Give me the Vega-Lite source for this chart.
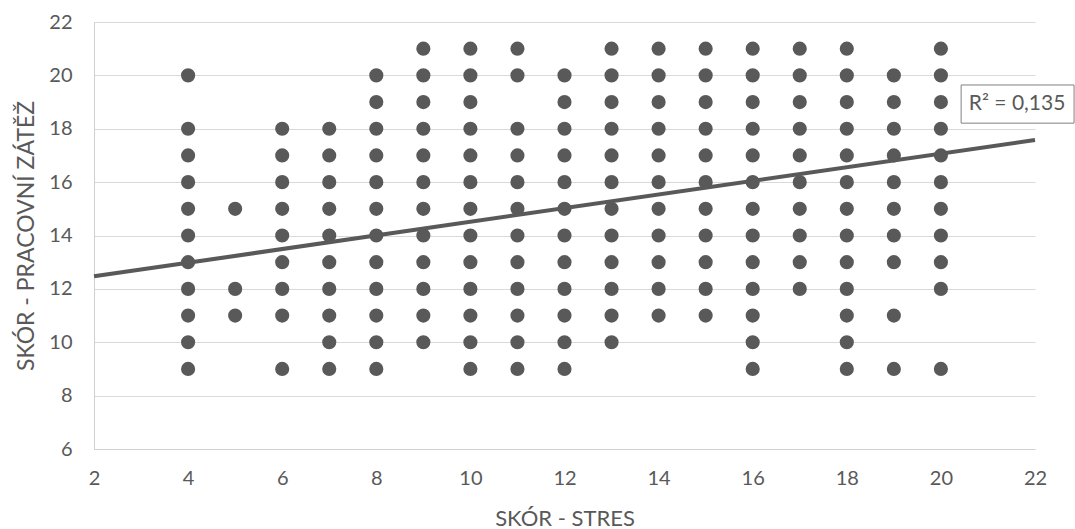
{
  "$schema": "https://vega.github.io/schema/vega-lite/v6.json",
  "width": 941,
  "height": 427,
  "autosize": {"type": "none"},
  "padding": {"left": 94, "top": 22, "right": 40, "bottom": 80},
  "background": "white",
  "config": {
    "view": {"stroke": null},
    "font": "Lato",
    "axis": {"labelFont": "Lato", "titleFont": "Lato"}
  },
  "datasets": {
    "points": [
      {"x": 4, "y": 9}, {"x": 4, "y": 10}, {"x": 4, "y": 11}, {"x": 4, "y": 12}, {"x": 4, "y": 13}, {"x": 4, "y": 14}, {"x": 4, "y": 15}, {"x": 4, "y": 16}, {"x": 4, "y": 17}, {"x": 4, "y": 18}, {"x": 4, "y": 20},
      {"x": 5, "y": 11}, {"x": 5, "y": 12}, {"x": 5, "y": 15},
      {"x": 6, "y": 9}, {"x": 6, "y": 11}, {"x": 6, "y": 12}, {"x": 6, "y": 13}, {"x": 6, "y": 14}, {"x": 6, "y": 15}, {"x": 6, "y": 16}, {"x": 6, "y": 17}, {"x": 6, "y": 18},
      {"x": 7, "y": 9}, {"x": 7, "y": 10}, {"x": 7, "y": 11}, {"x": 7, "y": 12}, {"x": 7, "y": 13}, {"x": 7, "y": 14}, {"x": 7, "y": 15}, {"x": 7, "y": 16}, {"x": 7, "y": 17}, {"x": 7, "y": 18},
      {"x": 8, "y": 9}, {"x": 8, "y": 10}, {"x": 8, "y": 11}, {"x": 8, "y": 12}, {"x": 8, "y": 13}, {"x": 8, "y": 14}, {"x": 8, "y": 15}, {"x": 8, "y": 16}, {"x": 8, "y": 17}, {"x": 8, "y": 18}, {"x": 8, "y": 19}, {"x": 8, "y": 20},
      {"x": 9, "y": 10}, {"x": 9, "y": 11}, {"x": 9, "y": 12}, {"x": 9, "y": 13}, {"x": 9, "y": 14}, {"x": 9, "y": 15}, {"x": 9, "y": 16}, {"x": 9, "y": 17}, {"x": 9, "y": 18}, {"x": 9, "y": 19}, {"x": 9, "y": 20}, {"x": 9, "y": 21},
      {"x": 10, "y": 9}, {"x": 10, "y": 10}, {"x": 10, "y": 11}, {"x": 10, "y": 12}, {"x": 10, "y": 13}, {"x": 10, "y": 14}, {"x": 10, "y": 15}, {"x": 10, "y": 16}, {"x": 10, "y": 17}, {"x": 10, "y": 18}, {"x": 10, "y": 19}, {"x": 10, "y": 20}, {"x": 10, "y": 21},
      {"x": 11, "y": 9}, {"x": 11, "y": 10}, {"x": 11, "y": 11}, {"x": 11, "y": 12}, {"x": 11, "y": 13}, {"x": 11, "y": 14}, {"x": 11, "y": 15}, {"x": 11, "y": 16}, {"x": 11, "y": 17}, {"x": 11, "y": 18}, {"x": 11, "y": 20}, {"x": 11, "y": 21},
      {"x": 12, "y": 9}, {"x": 12, "y": 10}, {"x": 12, "y": 11}, {"x": 12, "y": 12}, {"x": 12, "y": 13}, {"x": 12, "y": 14}, {"x": 12, "y": 15}, {"x": 12, "y": 16}, {"x": 12, "y": 17}, {"x": 12, "y": 18}, {"x": 12, "y": 19}, {"x": 12, "y": 20},
      {"x": 13, "y": 10}, {"x": 13, "y": 11}, {"x": 13, "y": 12}, {"x": 13, "y": 13}, {"x": 13, "y": 14}, {"x": 13, "y": 15}, {"x": 13, "y": 16}, {"x": 13, "y": 17}, {"x": 13, "y": 18}, {"x": 13, "y": 19}, {"x": 13, "y": 20}, {"x": 13, "y": 21},
      {"x": 14, "y": 11}, {"x": 14, "y": 12}, {"x": 14, "y": 13}, {"x": 14, "y": 14}, {"x": 14, "y": 15}, {"x": 14, "y": 16}, {"x": 14, "y": 17}, {"x": 14, "y": 18}, {"x": 14, "y": 19}, {"x": 14, "y": 20}, {"x": 14, "y": 21},
      {"x": 15, "y": 11}, {"x": 15, "y": 12}, {"x": 15, "y": 13}, {"x": 15, "y": 14}, {"x": 15, "y": 15}, {"x": 15, "y": 16}, {"x": 15, "y": 17}, {"x": 15, "y": 18}, {"x": 15, "y": 19}, {"x": 15, "y": 20}, {"x": 15, "y": 21},
      {"x": 16, "y": 9}, {"x": 16, "y": 10}, {"x": 16, "y": 11}, {"x": 16, "y": 12}, {"x": 16, "y": 13}, {"x": 16, "y": 14}, {"x": 16, "y": 15}, {"x": 16, "y": 16}, {"x": 16, "y": 17}, {"x": 16, "y": 18}, {"x": 16, "y": 19}, {"x": 16, "y": 20}, {"x": 16, "y": 21},
      {"x": 17, "y": 12}, {"x": 17, "y": 13}, {"x": 17, "y": 14}, {"x": 17, "y": 15}, {"x": 17, "y": 16}, {"x": 17, "y": 17}, {"x": 17, "y": 18}, {"x": 17, "y": 19}, {"x": 17, "y": 20}, {"x": 17, "y": 21},
      {"x": 18, "y": 9}, {"x": 18, "y": 10}, {"x": 18, "y": 11}, {"x": 18, "y": 12}, {"x": 18, "y": 13}, {"x": 18, "y": 14}, {"x": 18, "y": 15}, {"x": 18, "y": 16}, {"x": 18, "y": 17}, {"x": 18, "y": 18}, {"x": 18, "y": 19}, {"x": 18, "y": 20}, {"x": 18, "y": 21},
      {"x": 19, "y": 9}, {"x": 19, "y": 11}, {"x": 19, "y": 13}, {"x": 19, "y": 14}, {"x": 19, "y": 15}, {"x": 19, "y": 16}, {"x": 19, "y": 17}, {"x": 19, "y": 18}, {"x": 19, "y": 19}, {"x": 19, "y": 20},
      {"x": 20, "y": 9}, {"x": 20, "y": 12}, {"x": 20, "y": 13}, {"x": 20, "y": 14}, {"x": 20, "y": 15}, {"x": 20, "y": 16}, {"x": 20, "y": 17}, {"x": 20, "y": 18}, {"x": 20, "y": 19}, {"x": 20, "y": 20}, {"x": 20, "y": 21}
    ],
    "trend": [
      {"x": 2, "y": 12.47},
      {"x": 22, "y": 17.58}
    ],
    "labelbox": [
      {"x": 20.43, "x2": 22.83, "y": 18.21, "y2": 19.64}
    ],
    "labeltext": [
      {"x": 21.62, "y": 18.92, "t": "R² = 0,135"}
    ]
  },
  "encoding": {
    "x": {
      "field": "x",
      "type": "quantitative",
      "scale": {"domain": [2, 22], "nice": false, "zero": false},
      "axis": {
        "title": "SKÓR - STRES",
        "values": [2, 4, 6, 8, 10, 12, 14, 16, 18, 20, 22],
        "grid": false,
        "domain": true,
        "domainColor": "#d0d0d0",
        "domainWidth": 1,
        "ticks": false,
        "labelFlush": false,
        "labelOverlap": false,
        "labelPadding": 19,
        "labelFontSize": 20,
        "labelColor": "#595959",
        "titleFontSize": 22,
        "titleFontWeight": "normal",
        "titleColor": "#595959",
        "titleBaseline": "alphabetic",
        "titleY": 76
      }
    },
    "y": {
      "field": "y",
      "type": "quantitative",
      "scale": {"domain": [6, 22], "nice": false, "zero": false},
      "axis": {
        "title": "SKÓR - PRACOVNÍ ZÁTĚŽ",
        "values": [6, 8, 10, 12, 14, 16, 18, 20, 22],
        "grid": true,
        "gridColor": "#d9d9d9",
        "gridWidth": 1,
        "domain": true,
        "domainColor": "#d0d0d0",
        "domainWidth": 1,
        "ticks": false,
        "labelFlush": false,
        "labelOverlap": false,
        "labelPadding": 22,
        "labelFontSize": 20,
        "labelColor": "#595959",
        "titleFontSize": 23,
        "titleFontWeight": "normal",
        "titleColor": "#595959",
        "titleAngle": 270,
        "titleBaseline": "alphabetic",
        "titleX": -61
      }
    }
  },
  "layer": [
    {
      "data": {"name": "points"},
      "mark": {"type": "circle", "size": 200, "opacity": 1, "color": "#595959"}
    },
    {
      "data": {"name": "trend"},
      "mark": {"type": "line", "color": "#595959", "strokeWidth": 4}
    },
    {
      "data": {"name": "labelbox"},
      "mark": {"type": "rect", "fill": "white", "stroke": "#808080", "strokeWidth": 1},
      "encoding": {
        "x2": {"field": "x2"},
        "y2": {"field": "y2"}
      }
    },
    {
      "data": {"name": "labeltext"},
      "mark": {"type": "text", "fontSize": 21, "color": "#595959", "align": "center", "baseline": "middle", "font": "Lato"},
      "encoding": {
        "text": {"field": "t", "type": "nominal"}
      }
    }
  ]
}
